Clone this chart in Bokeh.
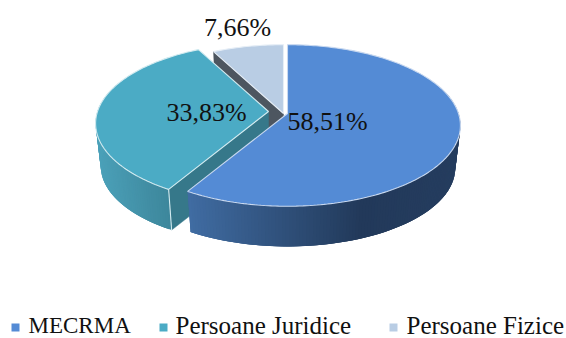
import math
from bokeh.plotting import figure
from bokeh.models import Range1d, ColumnDataSource
from bokeh.core.properties import value
from bokeh.embed import file_html
from bokeh.resources import INLINE

categories = ["MECRMA", "Persoane Juridice", "Persoane Fizice"]
shares = [58.51, 33.83, 7.66]
labels = ["58,51%", "33,83%", "7,66%"]

# layout
APEX = [(287, 113), (268, 111), (283, 113)]
R, S, K = 171, 79, 0.148
SCALE_B, DROP = 0.97, 43
TOP = ["#548bd5", "#4babc5", "#b9cde4"]
RIM = ["#c9d9f0", "#d3ebf0", "#e6eef6"]
RADIAL = [None, "#36788a", "#4d5660"]
GRAD = [[(189, (0x40, 0x6c, 0xa2)), (363, (0x22, 0x39, 0x5a)), (460, (0x25, 0x3d, 0x5f))],
        [(98, (0x4b, 0xa0, 0xb8)), (170, (0x3d, 0x86, 0x9b))],
        [(0, (0x4d, 0x56, 0x60)), (1, (0x4d, 0x56, 0x60))]]
LABEL_POS = [(327, 121), (206, 112), (237, 27)]
LABEL_SIZE = "26px"
LEG_MARK = [(15, 327), (163, 327), (393, 327)]
LEG_TEXT = [(28, 325), (175, 325), (406, 325)]
LEG_SIZE = ["23px", "25px", "25px"]
FONT = "Liberation Serif"


def project(apex, deg, lower=False):
    t = math.radians(deg)
    u, v = math.sin(t), math.cos(t)
    w = 1 + K * v
    s = SCALE_B if lower else 1.0
    d = DROP if lower else 0.0
    return apex[0] + s * R * u / w, apex[1] + d - s * S * v / w


def grad(stops, x):
    if x <= stops[0][0]:
        c = stops[0][1]
    elif x >= stops[-1][0]:
        c = stops[-1][1]
    else:
        for (x0, c0), (x1, c1) in zip(stops, stops[1:]):
            if x0 <= x <= x1:
                f = (x - x0) / (x1 - x0)
                c = tuple(a + (b - a) * f for a, b in zip(c0, c1))
                break
    return "#%02x%02x%02x" % tuple(round(a) for a in c)


total = sum(shares)
spans = []
a = 0.0
for v_ in shares:
    spans.append((a, a + 360 * v_ / total))
    a += 360 * v_ / total

p = figure(width=566, height=338, x_range=Range1d(0, 566), y_range=Range1d(338, 0),
           x_axis_type=None, y_axis_type=None, toolbar_location=None, output_backend="svg",
           min_border=0, outline_line_color=None, background_fill_color="white",
           border_fill_color="white")
p.grid.visible = False
p.styles = {"position": "absolute", "left": "0", "top": "0"}

# back to front: light, teal, blue
for i in (2, 1, 0):
    apex, (a0, a1) = APEX[i], spans[i]
    n = max(4, int((a1 - a0) / 1.0))
    angs = [a0 + (a1 - a0) * k / n for k in range(n + 1)]
    # outer wall: overlapping strips so no seams show
    keep = [b for b in angs if math.cos(math.radians(b)) < 0.35]
    if len(keep) > 1:
        xs, ys, cs = [], [], []
        for j in range(len(keep) - 1):
            b0, b1 = keep[j], keep[min(j + 3, len(keep) - 1)]
            t0, t1 = project(apex, b0), project(apex, b1)
            l0, l1 = project(apex, b0, True), project(apex, b1, True)
            xs.append([t0[0], t1[0], l1[0], l0[0]])
            ys.append([t0[1], t1[1], l1[1], l0[1]])
            cs.append(grad(GRAD[i], t0[0]))
        p.patches(xs="xs", ys="ys", fill_color="col", line_color=None,
                  source=ColumnDataSource(dict(xs=xs, ys=ys, col=cs)))
    # radial wall facing the viewer
    if RADIAL[i]:
        ot, ob = project(apex, a0), project(apex, a0, True)
        p.patch([apex[0], ot[0], ob[0], apex[0]],
                [apex[1], ot[1], ob[1], apex[1] + DROP],
                fill_color=RADIAL[i], line_color=RADIAL[i], line_width=0.5)
    # top face
    arc = [project(apex, b) for b in angs]
    tx = [apex[0]] + [q[0] for q in arc] + [apex[0]]
    ty = [apex[1]] + [q[1] for q in arc] + [apex[1]]
    p.patch(tx, ty, fill_color=TOP[i], line_color=RIM[i], line_width=1.1)
    # corner highlight on teal front corner
    if i == 1:
        ot, ob = project(apex, a0), project(apex, a0, True)
        p.line([ot[0], ob[0]], [ot[1], ob[1]], line_color=RIM[i], line_width=1.1)

for i in range(3):
    p.text([LABEL_POS[i][0]], [LABEL_POS[i][1]], text=[labels[i]], text_font=value(FONT),
           text_font_size=LABEL_SIZE, text_color="#111111", text_align="center",
           text_baseline="middle")
    p.scatter([LEG_MARK[i][0]], [LEG_MARK[i][1]], marker="square", size=8,
              fill_color=TOP[i], line_color=None)
    p.text([LEG_TEXT[i][0]], [LEG_TEXT[i][1]], text=[categories[i]], text_font=value(FONT),
           text_font_size=LEG_SIZE[i], text_color="#111111", text_align="left",
           text_baseline="middle")

open("out.html", "w").write(file_html(p, INLINE))
